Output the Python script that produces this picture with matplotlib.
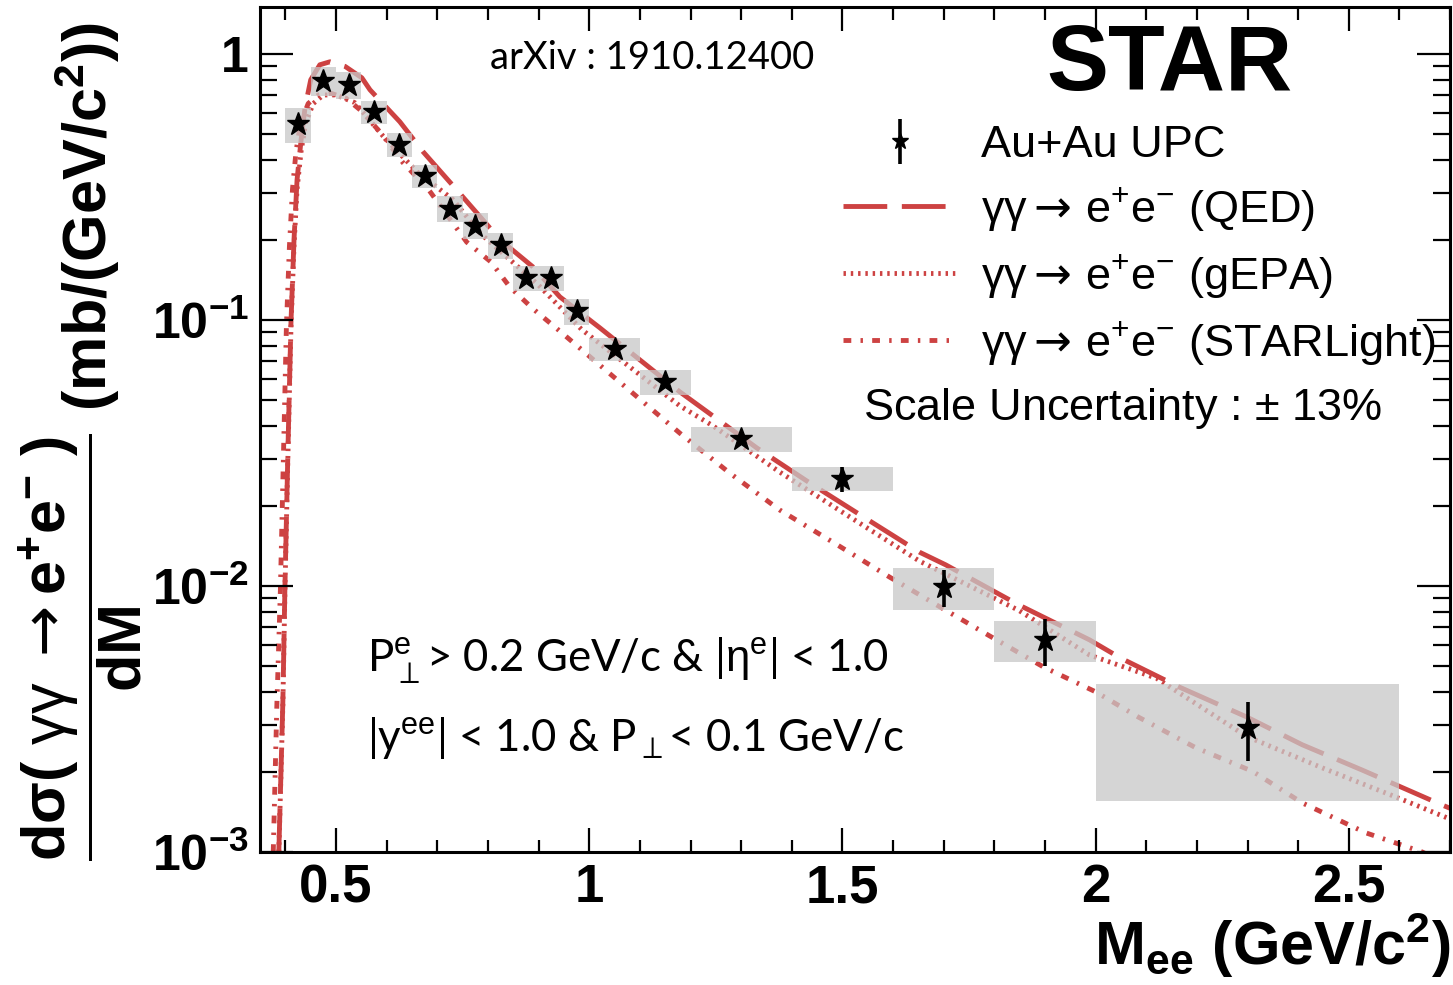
import matplotlib
matplotlib.use("Agg")
import matplotlib.pyplot as plt
from matplotlib.patches import Rectangle
from matplotlib.ticker import FixedLocator, FuncFormatter, MultipleLocator, NullFormatter
import numpy as np

plt.rcParams['font.family'] = ['Liberation Sans', 'DejaVu Sans']
plt.rcParams['mathtext.fontset'] = 'custom'
plt.rcParams['mathtext.rm'] = 'Liberation Sans'
plt.rcParams['mathtext.it'] = 'Liberation Sans:italic'
plt.rcParams['mathtext.bf'] = 'Liberation Sans:bold'
plt.rcParams['mathtext.sf'] = 'DejaVu Sans'

# --- data points (STAR Au+Au UPC) ---
bin_lo = [0.40, 0.45, 0.50, 0.55, 0.60, 0.65, 0.70, 0.75, 0.80, 0.85, 0.90, 0.95,
          1.0, 1.1, 1.2, 1.4, 1.6, 1.8, 2.0]
bin_hi = [0.45, 0.50, 0.55, 0.60, 0.65, 0.70, 0.75, 0.80, 0.85, 0.90, 0.95, 1.0,
          1.1, 1.2, 1.4, 1.6, 1.8, 2.0, 2.6]
dsig = [0.545, 0.792, 0.765, 0.605, 0.455, 0.348, 0.262, 0.226, 0.191, 0.144, 0.144, 0.108,
        0.0778, 0.0585, 0.0357, 0.0253, 0.0099, 0.00627, 0.00292]
stat_err = [0.010, 0.012, 0.012, 0.010, 0.008, 0.006, 0.005, 0.004, 0.004, 0.003, 0.003, 0.0025,
            0.002, 0.0015, 0.0015, 0.0027, 0.0016, 0.00125, 0.00073]
sys_err = [0.082, 0.10, 0.09, 0.062, 0.047, 0.035, 0.029, 0.025, 0.021, 0.016, 0.016, 0.012,
           0.008, 0.0061, 0.0037, 0.0026, 0.00175, 0.00109, 0.00136]

# --- model curves ---
qed_m = [0.387, 0.395, 0.399, 0.405, 0.411, 0.417, 0.423, 0.431, 0.439, 0.450, 0.468, 0.488,
         0.518, 0.551, 0.567, 0.626, 0.672, 0.735, 0.824, 0.889, 0.942, 1.021, 1.179, 1.331,
         1.441, 1.554, 1.652, 1.704, 1.848, 1.988, 2.049, 2.165, 2.298, 2.408, 2.527, 2.685, 2.700]
qed_v = [0.001, 0.0037, 0.0098, 0.0325, 0.098, 0.20, 0.336, 0.475, 0.632, 0.798, 0.909, 0.933,
         0.896, 0.812, 0.732, 0.555, 0.428, 0.313, 0.200, 0.158, 0.122, 0.0933, 0.0536, 0.0330,
         0.0240, 0.01755, 0.0134, 0.0120, 0.00849, 0.00627, 0.00536, 0.00417, 0.00322, 0.00253,
         0.00203, 0.00150, 0.00146]

gepa_m = [0.387, 0.395, 0.399, 0.405, 0.411, 0.417, 0.423, 0.431, 0.440, 0.455, 0.475, 0.500,
          0.537, 0.593, 0.660, 0.731, 0.784, 0.900, 0.985, 1.179, 1.244, 1.376, 1.508, 1.652,
          1.848, 1.988, 2.120, 2.298, 2.448, 2.600, 2.700]
gepa_v = [0.001, 0.0036, 0.0095, 0.031, 0.094, 0.19, 0.31, 0.43, 0.55, 0.65, 0.70, 0.70,
          0.655, 0.49, 0.36, 0.283, 0.212, 0.135, 0.092, 0.0475, 0.040, 0.0268, 0.0185, 0.0124,
          0.0081, 0.0055, 0.0045, 0.00272, 0.00207, 0.00159, 0.00133]

sl_m = [0.376, 0.383, 0.390, 0.396, 0.402, 0.408, 0.414, 0.421, 0.430, 0.445, 0.465, 0.490,
        0.520, 0.550, 0.590, 0.632, 0.682, 0.758, 0.806, 0.843, 0.889, 0.938, 1.179, 1.277,
        1.376, 1.489, 1.593, 1.704, 1.790, 1.897, 2.000, 2.085, 2.197, 2.310, 2.408, 2.534,
        2.645, 2.700]
sl_v = [0.001, 0.0035, 0.0095, 0.03, 0.095, 0.19, 0.31, 0.43, 0.55, 0.65, 0.70, 0.71,
        0.68, 0.61, 0.50, 0.39, 0.31, 0.196, 0.165, 0.133, 0.110, 0.092, 0.0375, 0.0266,
        0.0193, 0.0143, 0.0108, 0.0081, 0.0065, 0.00496, 0.0040, 0.00321, 0.00247, 0.00201,
        0.00153, 0.00118, 0.001, 0.00089]

red = '#cd4242'
proc = r'$\mathrm{\gamma\gamma}\mathsf{\rightarrow}\,\mathrm{e^{+}e^{-}}$'

fig = plt.figure(figsize=(14.53, 9.85), dpi=100)
ax = fig.add_axes([0.179, 0.135, 0.819, 0.858])

l_qed, = ax.plot(qed_m, qed_v, color=red, lw=3.5, dashes=(9, 3), zorder=1,
                 label=proc + ' (QED)')
l_gepa, = ax.plot(gepa_m, gepa_v, color=red, lw=3.5, dashes=(0.5, 1.0), zorder=1,
                  label=proc + ' (gEPA)')
l_sl, = ax.plot(sl_m, sl_v, color=red, lw=3.5, dashes=(1.6, 1.9, 0.5, 1.9), zorder=1,
                label=proc + ' (STARLight)')

# systematic boxes
for lo, hi, v, s in zip(bin_lo, bin_hi, dsig, sys_err):
    ax.add_patch(Rectangle((lo, v - s), hi - lo, 2 * s, facecolor='#c8c8c8',
                           edgecolor='none', alpha=0.75, zorder=2))

xc = [(lo + hi) / 2 for lo, hi in zip(bin_lo, bin_hi)]
pts = ax.errorbar(xc, dsig, yerr=stat_err, fmt='*', color='k', ms=17, elinewidth=2.6,
                  capsize=0, zorder=3, label='Au+Au UPC')

ax.set_yscale('log')
ax.set_xlim(0.35, 2.7)
ax.set_ylim(1e-3, 1.5)

for sp in ax.spines.values():
    sp.set_linewidth(2.2)

ax.xaxis.set_major_locator(FixedLocator([0.5, 1.0, 1.5, 2.0, 2.5]))
ax.xaxis.set_minor_locator(MultipleLocator(0.1))
ax.xaxis.set_major_formatter(FuncFormatter(lambda v, p: '%g' % v))
ax.yaxis.set_major_locator(FixedLocator([1e-3, 1e-2, 1e-1, 1]))
minors = [k * 10.0 ** e for e in (-3, -2, -1, 0) for k in range(2, 10)]
ax.yaxis.set_minor_locator(FixedLocator(minors))
ax.yaxis.set_minor_formatter(NullFormatter())
ax.yaxis.set_major_formatter(FuncFormatter(
    lambda v, p: '1' if abs(v - 1) < 1e-9 else r'$\mathbf{10^{%d}}$' % round(np.log10(v))))

ax.tick_params(which='both', direction='in', top=True, right=True, width=1.6)
ax.tick_params(axis='x', which='major', length=17, labelsize=38, pad=8)
ax.tick_params(axis='x', which='minor', length=9)
ax.tick_params(axis='y', which='major', length=24, labelsize=36, pad=8)
ax.tick_params(axis='y', which='minor', length=12)
for t in ax.get_xticklabels() + ax.get_yticklabels():
    t.set_fontweight('bold')

# legend
leg = ax.legend(handles=[pts, l_qed, l_gepa, l_sl], loc='upper left',
                bbox_to_anchor=(0.49, 0.86), frameon=False, fontsize=32.5,
                handlelength=2.5, handletextpad=0.55, labelspacing=0.42, borderpad=0,
                borderaxespad=0, markerscale=0.7)

ax.text(0.507, 0.525, 'Scale Uncertainty : $\\pm$ 13%', transform=ax.transAxes,
        fontsize=32.5, va='center', ha='left')
ax.text(0.764, 0.93, 'STAR', transform=ax.transAxes, fontsize=67,
        fontweight='bold', ha='center', va='center')
ax.text(0.193, 0.939, 'arXiv : 1910.12400', transform=ax.transAxes,
        fontsize=27.5, family=['Lato', 'DejaVu Sans'], ha='left', va='center')
ax.text(0.09, 0.227, r'P$_{\perp}^{\mathrm{e}}$> 0.2 GeV/c & |$\mathrm{\eta^{e}}$| < 1.0',
        transform=ax.transAxes, fontsize=31.5, family=['Lato', 'DejaVu Sans'],
        ha='left', va='center')
ax.text(0.09, 0.135, r'|y$^{\mathrm{ee}}$| < 1.0 & P$_{\perp}$< 0.1 GeV/c',
        transform=ax.transAxes, fontsize=31.5, family=['Lato', 'DejaVu Sans'],
        ha='left', va='center')

# axis titles
fig.text(0.055, 0.552,
         r'$\mathbf{\dfrac{d\sigma(\ \mathrm{\gamma\gamma}\ \mathsf{\rightarrow} e^{+}e^{-}\ )}{dM}}$'
         r' (mb/(GeV/c$^{\mathbf{2}}$))',
         rotation=90, fontsize=44, fontweight='bold', ha='center', va='center')
fig.text(0.998, 0.005, r'M$_{\mathbf{ee}}$ (GeV/c$^{\mathbf{2}}$)', fontsize=44,
         fontweight='bold', ha='right', va='bottom')

fig.savefig('out.png', dpi=100)
